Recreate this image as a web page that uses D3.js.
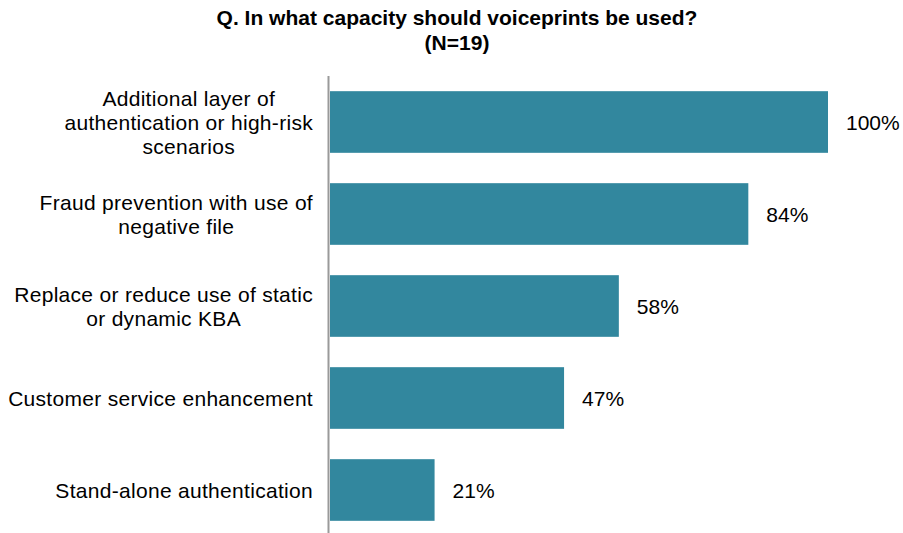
<!DOCTYPE html>
<html><head><meta charset="utf-8">
<script src="https://cdn.jsdelivr.net/npm/d3@7"></script>
<style>body{margin:0;background:#fff}svg{display:block}text{font-family:"Liberation Sans",Arial,sans-serif}</style>
</head><body>
<svg id="c" width="903" height="533"></svg>
<script>
const categories = [
  ["Additional layer of","authentication or high-risk","scenarios"],
  ["Fraud prevention with use of","negative file"],
  ["Replace or reduce use of static","or dynamic KBA"],
  ["Customer service enhancement"],
  ["Stand-alone authentication"]
];
const values = [100, 84, 58, 47, 21];
const titleLines = ["Q. In what capacity should voiceprints be used?", "(N=19)"];

const svg = d3.select("#c");
const x0 = 330;
const x = d3.scaleLinear().domain([0, 100]).range([x0, 828]);
const y = d3.scaleBand().domain(d3.range(values.length)).range([76, 536]).paddingInner(0.33).paddingOuter(0.165);

svg.append("g").selectAll("text").data(titleLines).join("text")
  .attr("x", 457).attr("y", (d,i)=>25+i*25)
  .attr("text-anchor","middle").attr("font-size",21).attr("font-weight","bold").attr("fill","#000")
  .text(d=>d);

svg.append("g").selectAll("rect").data(values).join("rect")
  .attr("x", x0).attr("y",(d,i)=>y(i)).attr("width", d=>x(d)-x0).attr("height", y.bandwidth())
  .attr("fill","#32879E");

svg.append("line").attr("x1",328.5).attr("x2",328.5).attr("y1",76).attr("y2",533)
  .attr("stroke","#9a9a9a").attr("stroke-width",2);

svg.append("g").selectAll("text").data(values).join("text")
  .attr("x", d=>x(d)+18).attr("y",(d,i)=>y(i)+y.bandwidth()/2+8)
  .attr("font-size",21).attr("fill","#000").text(d=>d+"%");

const lh = 24;
categories.forEach((lines,i)=>{
  const g = svg.append("g");
  const ts = lines.map((l,j)=>g.append("text").attr("font-size",21).attr("letter-spacing",0.3).attr("fill","#000").text(l));
  const maxW = d3.max(ts, t=>t.node().getComputedTextLength());
  const cx = 313 - maxW/2;
  const cy = y(i)+y.bandwidth()/2;
  const top = cy - (lines.length-1)*lh/2 + 8;
  ts.forEach((t,j)=>t.attr("x",cx).attr("y",top+j*lh).attr("text-anchor","middle"));
});
</script>
</body></html>
